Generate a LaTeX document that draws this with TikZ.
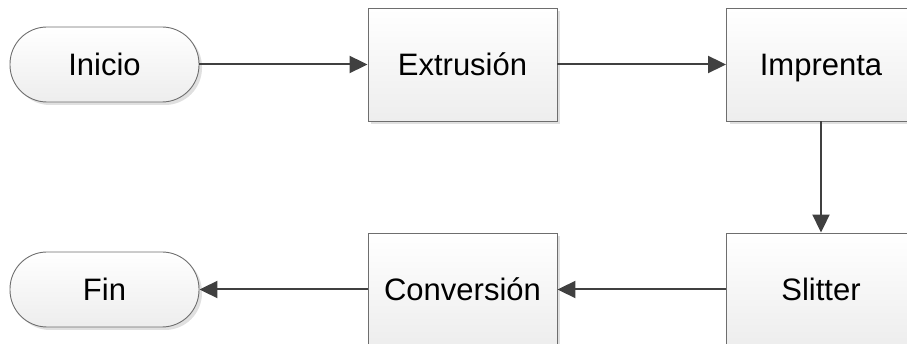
\documentclass[tikz,border=0pt]{standalone}
\usepackage{fontspec}
\setmainfont{Liberation Sans}
\usetikzlibrary{arrows.meta,shadows}
\definecolor{edgegray}{HTML}{6E6E6E}
\definecolor{flowgray}{HTML}{404040}
\tikzset{
  base/.style={draw=edgegray, line width=0.9pt, top color=white, bottom color=black!7,
    font=\fontsize{31}{36}\selectfont, inner sep=0pt, text height=22pt, text depth=0pt,
    drop shadow={shadow xshift=3pt, shadow yshift=-3pt, fill=black, opacity=0.12}},
  terminal/.style={base, rectangle, rounded corners=37pt, minimum width=189pt, minimum height=75pt},
  process/.style={base, rectangle, minimum width=189pt, minimum height=113pt},
  flowarrow/.style={draw=flowgray, line width=2pt, -{Triangle[length=18pt,width=17pt]}}
}
\begin{document}
\begin{tikzpicture}[x=1pt,y=-1pt]
  \useasboundingbox (0,0) rectangle (907,344);
  \clip (0,0) rectangle (907,344);
  % top row
  \node[terminal] (inicio) at (104.5,64.5) {Inicio};
  \node[process] (extr) at (462.5,64.5) {Extrusión};
  \node[process] (impr) at (821,64.5) {Imprenta};
  % bottom row
  \node[process] (slit) at (821,289.5) {Slitter};
  \node[process] (conv) at (462.5,289.5) {Conversión};
  \node[terminal] (fin) at (104.5,289.5) {Fin};
  % flow
  \draw[flowarrow] (inicio) -- (extr);
  \draw[flowarrow] (extr) -- (impr);
  \draw[flowarrow] (impr) -- (slit);
  \draw[flowarrow] (slit) -- (conv);
  \draw[flowarrow] (conv) -- (fin);
\end{tikzpicture}
\end{document}
